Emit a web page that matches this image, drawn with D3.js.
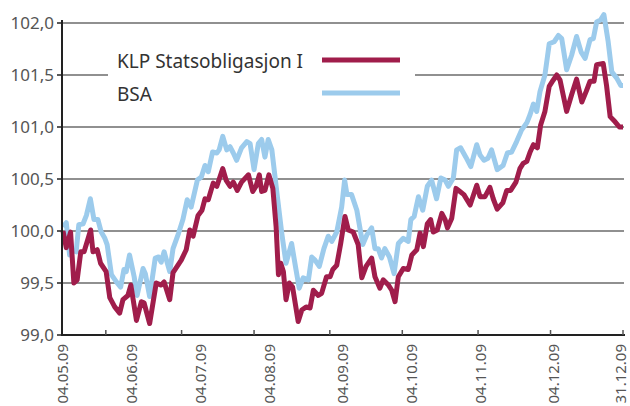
<!DOCTYPE html>
<html>
<head>
<meta charset="utf-8">
<script src="https://cdn.jsdelivr.net/npm/d3@7"></script>
<style>
    body { margin: 0; background: #fff; }
    svg { display: block; font-family: 'Noto Sans', sans-serif; }
    .grid line { stroke: #6b6b6b; stroke-width: 1.5; }
    .axis-line { stroke: #222; stroke-width: 2; }
    .tick-label { fill: #555; }
    .series { fill: none; stroke-width: 5; stroke-linejoin: round; }
</style>
</head>
<body>
<script>
// series data, x is trading-day index (0 = 04.05.09, 170 = 31.12.09)
const klpIdx = [0, 1.0, 2.3, 3.3, 4.3, 5.4, 6.4, 8.4, 9.1, 10.4,
    11.4, 13.1, 14.2, 15.7, 17.2, 18.2, 19.7, 20.6, 22.3, 23.8,
    24.6, 26.3, 28.3, 29.8, 30.7, 32.4, 33.4, 35.9, 37.4, 38.5,
    39.5, 41.0, 42.2, 43.1, 44.1, 45.6, 46.7, 48.5, 49.5, 50.7,
    51.7, 52.9, 54.2, 56.3, 57.6, 58.6, 59.6, 60.3, 61.3, 62.5,
    63.7, 64.7, 65.4, 66.1, 66.9, 67.7, 68.7, 69.7, 71.4, 72.5,
    73.8, 75.0, 76.0, 77.5, 78.5, 80.0, 81.1, 81.9, 83.1, 84.3,
    85.6, 86.6, 88.1, 89.6, 90.7, 92.0, 93.7, 94.7, 96.2, 97.2,
    98.8, 99.8, 100.8, 101.8, 103.3, 104.8, 105.9, 107.4, 108.4, 109.4,
    110.6, 111.6, 112.4, 113.6, 115.0, 116.0, 116.7, 118.0, 119.3, 120.5,
    121.7, 123.6, 125.6, 126.6, 128.1, 129.6, 130.6, 131.8, 133.5, 134.7,
    135.9, 137.5, 138.7, 139.7, 140.8, 141.8, 142.8, 144.0, 145.0, 146.3,
    147.6, 148.8, 149.9, 150.9, 152.9, 154.4, 155.9, 157.5, 158.8, 160.0,
    161.2, 162.0, 164.0, 165.0, 166.1, 167.6, 168.9, 170];
const klpValues = [100.00, 99.84, 99.99, 99.50, 99.53, 99.80, 99.80, 100.01, 99.80, 99.82,
    99.69, 99.61, 99.36, 99.27, 99.21, 99.34, 99.38, 99.48, 99.14, 99.32,
    99.31, 99.11, 99.50, 99.48, 99.51, 99.34, 99.60, 99.72, 99.82, 100.01,
    99.95, 100.15, 100.20, 100.31, 100.30, 100.46, 100.43, 100.60, 100.49, 100.43,
    100.47, 100.39, 100.47, 100.54, 100.38, 100.43, 100.54, 100.38, 100.39, 100.54,
    100.41, 100.04, 99.58, 99.69, 99.61, 99.34, 99.50, 99.46, 99.13, 99.24,
    99.27, 99.26, 99.43, 99.38, 99.40, 99.56, 99.56, 99.63, 99.67, 99.88,
    100.14, 100.01, 99.99, 99.87, 99.55, 99.66, 99.74, 99.56, 99.45, 99.53,
    99.48, 99.43, 99.32, 99.56, 99.64, 99.63, 99.77, 99.82, 99.98, 99.85,
    100.07, 100.11, 99.99, 100.01, 100.17, 100.11, 100.03, 100.12, 100.41, 100.38,
    100.35, 100.25, 100.44, 100.33, 100.33, 100.42, 100.31, 100.21, 100.27, 100.39,
    100.39, 100.47, 100.60, 100.65, 100.67, 100.76, 100.83, 100.80, 101.02, 101.15,
    101.39, 101.45, 101.50, 101.45, 101.15, 101.31, 101.46, 101.24, 101.34, 101.44,
    101.44, 101.60, 101.61, 101.40, 101.10, 101.05, 101.00, 101.00];

const bsaIdx = [0, 1.0, 2.0, 2.7, 4.0, 4.8, 6.1, 7.1, 8.3, 9.4,
    10.6, 11.6, 12.7, 13.4, 14.7, 16.2, 17.5, 18.5, 19.2, 20.2,
    21.6, 22.5, 24.3, 25.0, 26.3, 28.0, 29.0, 29.8, 30.7, 32.4,
    33.4, 35.1, 36.4, 37.7, 38.9, 40.8, 42.0, 43.1, 44.1, 45.4,
    46.7, 47.4, 48.5, 49.7, 50.7, 51.7, 52.7, 54.2, 55.8, 56.8,
    58.0, 59.3, 60.3, 61.3, 62.3, 63.4, 64.7, 66.4, 67.7, 69.4,
    70.4, 71.7, 72.9, 74.5, 75.5, 76.5, 77.8, 79.2, 80.5, 81.6,
    83.1, 84.6, 85.5, 86.2, 87.6, 89.2, 91.0, 92.2, 93.7, 94.7,
    95.7, 96.7, 97.7, 99.1, 100.5, 101.8, 103.3, 104.8, 105.6, 106.6,
    107.9, 109.2, 110.6, 111.9, 113.4, 114.7, 116.0, 117.0, 118.5, 119.5,
    120.7, 122.3, 123.8, 125.6, 126.6, 127.8, 129.0, 130.1, 131.8, 133.6,
    134.9, 136.2, 137.7, 139.2, 140.8, 141.8, 142.8, 143.8, 144.8, 146.3,
    147.6, 149.1, 150.4, 151.4, 152.9, 154.4, 155.9, 157.3, 158.5, 160.0,
    161.0, 162.0, 163.2, 164.2, 165.5, 166.6, 168.1, 169.3, 170];
const bsaValues = [100.04, 100.08, 99.77, 99.82, 99.80, 100.06, 100.07, 100.15, 100.31, 100.11,
    100.11, 99.99, 99.93, 99.87, 99.58, 99.51, 99.46, 99.63, 99.61, 99.77,
    99.56, 99.38, 99.64, 99.59, 99.37, 99.74, 99.75, 99.70, 99.80, 99.61,
    99.83, 99.98, 100.11, 100.30, 100.23, 100.49, 100.52, 100.63, 100.57, 100.76,
    100.75, 100.78, 100.91, 100.78, 100.81, 100.75, 100.68, 100.80, 100.86, 100.84,
    100.59, 100.84, 100.88, 100.71, 100.88, 100.78, 100.43, 99.98, 99.69, 99.88,
    99.69, 99.45, 99.55, 99.53, 99.75, 99.72, 99.66, 99.83, 99.95, 99.90,
    99.99, 100.23, 100.49, 100.35, 100.35, 100.20, 99.87, 99.96, 100.03, 99.83,
    99.83, 99.74, 99.83, 99.75, 99.59, 99.88, 99.93, 99.90, 100.11, 100.14,
    100.33, 100.20, 100.43, 100.49, 100.31, 100.51, 100.49, 100.43, 100.51, 100.78,
    100.80, 100.71, 100.62, 100.83, 100.73, 100.68, 100.70, 100.78, 100.59, 100.63,
    100.75, 100.76, 100.86, 100.97, 101.04, 101.12, 101.22, 101.15, 101.34, 101.50,
    101.80, 101.82, 101.88, 101.85, 101.55, 101.69, 101.87, 101.72, 101.66, 101.84,
    101.85, 102.01, 102.03, 102.08, 101.82, 101.53, 101.47, 101.40, 101.40];

// axes
const yTicks = [99.0, 99.5, 100.0, 100.5, 101.0, 101.5, 102.0];
const xLabels = ['04.05.09', '04.06.09', '04.07.09', '04.08.09', '04.09.09',
    '04.10.09', '04.11.09', '04.12.09', '31.12.09'];
const xLabelIdx = [0, 21, 42, 63, 85, 106, 127, 149, 169.5];
const xTickIdx = [13, 36, 58, 81, 103, 126, 148, 170];

const seriesNames = ['KLP Statsobligasjon I', 'BSA'];
const seriesColors = ['#a01d4b', '#9ccbec'];

class Chart {
    constructor() {
        this._svg = d3.select('body').append('svg')
            .attr('width', 630)
            .attr('height', 406);
        this._params = {
            left: 62,
            right: 624,
            top: 23,
            bottom: 335,
            xPad: 1
        };
        this._setupScales();
        this._setupGrid();
        this._setupLines();
        this._setupAxes();
        this._setupLegend();
    }

    _setupScales() {
        const p = this._params;
        this._x = d3.scaleLinear().domain([0, 170]).range([p.left + p.xPad, p.right - p.xPad]);
        this._y = d3.scaleLinear().domain([99, 102]).range([p.bottom, p.top]);
    }

    _setupGrid() {
        const p = this._params;
        this._svg.append('g')
            .attr('class', 'grid')
            .selectAll('line')
            .data(yTicks.slice(1))
            .enter()
            .append('line')
            .attr('x1', p.left)
            .attr('x2', p.right)
            .attr('y1', d => this._y(d))
            .attr('y2', d => this._y(d));
    }

    _setupLines() {
        const line = d3.line()
            .x(d => this._x(d[0]))
            .y(d => this._y(d[1]));
        // blue first, red on top
        const series = [
            {name: seriesNames[1], color: seriesColors[1], data: d3.zip(bsaIdx, bsaValues)},
            {name: seriesNames[0], color: seriesColors[0], data: d3.zip(klpIdx, klpValues)}
        ];
        this._svg.append('g')
            .selectAll('path')
            .data(series)
            .enter()
            .append('path')
            .attr('class', 'series')
            .attr('stroke', d => d.color)
            .attr('d', d => line(d.data));
    }

    _setupAxes() {
        const p = this._params;
        const fmt = d => d3.format('.1f')(d).replace('.', ',');
        // y axis
        const yAxis = this._svg.append('g');
        yAxis.append('line')
            .attr('class', 'axis-line')
            .attr('x1', p.left).attr('x2', p.left)
            .attr('y1', p.top - 3).attr('y2', p.bottom + 1);
        yAxis.selectAll('.ytick')
            .data(yTicks)
            .enter()
            .append('line')
            .attr('stroke', '#222')
            .attr('stroke-width', 1.5)
            .attr('x1', p.left - 5).attr('x2', p.left)
            .attr('y1', d => this._y(d))
            .attr('y2', d => this._y(d));
        yAxis.selectAll('text')
            .data(yTicks)
            .enter()
            .append('text')
            .attr('class', 'tick-label')
            .attr('x', p.left - 8)
            .attr('y', d => this._y(d))
            .attr('dy', '0.35em')
            .attr('text-anchor', 'end')
            .style('font-size', '17px')
            .text(fmt);
        // x axis
        const xAxis = this._svg.append('g');
        xAxis.append('line')
            .attr('class', 'axis-line')
            .attr('x1', p.left).attr('x2', p.right + 1)
            .attr('y1', p.bottom).attr('y2', p.bottom);
        xAxis.selectAll('.xtick')
            .data(xTickIdx)
            .enter()
            .append('line')
            .attr('stroke', '#555')
            .attr('stroke-width', 1.5)
            .attr('x1', d => this._x(d)).attr('x2', d => this._x(d))
            .attr('y1', p.bottom - 5).attr('y2', p.bottom);
        xAxis.selectAll('text')
            .data(xLabels)
            .enter()
            .append('text')
            .attr('class', 'tick-label')
            .attr('transform', (d, i) => `translate(${this._x(xLabelIdx[i])},${p.bottom + 9}) rotate(-90)`)
            .attr('dy', '0.33em')
            .attr('text-anchor', 'end')
            .style('font-size', '15px')
            .text(d => d);
    }

    _setupLegend() {
        const legend = this._svg.append('g');
        // white box hides the gridline behind the legend
        legend.append('rect')
            .attr('x', 108).attr('y', 42)
            .attr('width', 307).attr('height', 66)
            .attr('fill', '#fff');
        const rows = legend.selectAll('.row')
            .data(seriesNames)
            .enter()
            .append('g')
            .attr('transform', (d, i) => `translate(117,${60 + i * 33})`);
        rows.append('text')
            .attr('dy', '0.4em')
            .attr('fill', '#333')
            .style('font-size', '19px')
            .text(d => d);
        rows.append('line')
            .attr('x1', 205).attr('x2', 283)
            .attr('stroke', (d, i) => seriesColors[i])
            .attr('stroke-width', 5);
    }
}

new Chart();
</script>
</body>
</html>
